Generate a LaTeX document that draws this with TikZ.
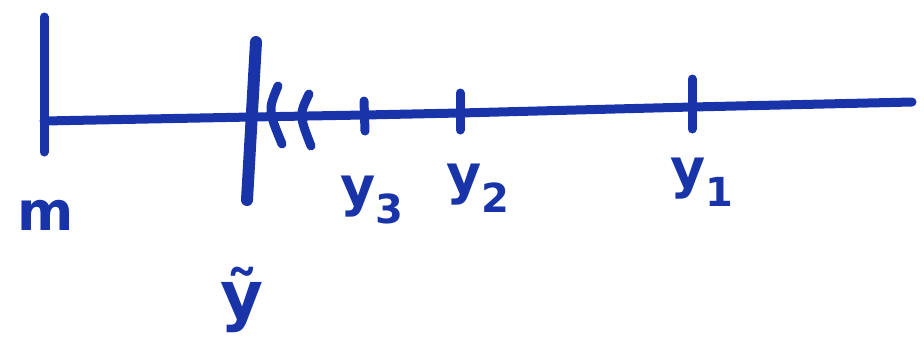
\documentclass[tikz,border=0pt]{standalone}
\usepackage{fontspec}
\setsansfont{DejaVu Sans}
\usetikzlibrary{positioning}
\definecolor{pen}{RGB}{24,52,168}
\newcommand{\lowsub}[1]{\raisebox{-0.35em}{\fontsize{40}{40}\selectfont #1}}

\begin{document}
\begin{tikzpicture}[
    x=1pt, y=-1pt,
    every node/.style={font=\sffamily\bfseries\fontsize{54}{54}\selectfont, text=pen, inner sep=0pt},
    axis/.style={draw=pen, line width=9pt, line cap=round, line join=round},
    tickmark/.style={draw=pen, line width=9pt, line cap=round}
]
\useasboundingbox (0,0) rectangle (924,349);

% points on the line
\coordinate (m) at (44,121);
\coordinate (ytil) at (252,117);
\coordinate (y3) at (364,115);
\coordinate (y2) at (460,113);
\coordinate (y1) at (692,107);
\coordinate (end) at (912,102);

\draw[axis] (m) -- (ytil) -- (y3) -- (y2) -- (y1) -- (end);

% ticks
\draw[tickmark] (m) ++(0,-104) -- ++(0,135);
\draw[tickmark, line width=12pt] (ytil) ++(4,-75) -- ++(-9,158);
\draw[tickmark] (278,86) .. controls (268,110) .. (282,144);
\draw[tickmark] (309,94) .. controls (299,115) .. (311,146);
\draw[tickmark] (y3) ++(0,-14) -- ++(1,30);
\draw[tickmark] (y2) ++(0,-20) -- ++(0,37);
\draw[tickmark] (y1) ++(0,-28) -- ++(0,50);

% labels
\node (mlabel) at (46,215) {m};
\node[font=\sffamily\bfseries\fontsize{66}{66}\selectfont] (ytlabel) at (242,300) {ỹ};
\node (y3label) at (372,200) {y\lowsub{3}};
\node (y2label) at (478,188) {y\lowsub{2}};
\node (y1label) at (702,182) {y\lowsub{1}};
\end{tikzpicture}
\end{document}
